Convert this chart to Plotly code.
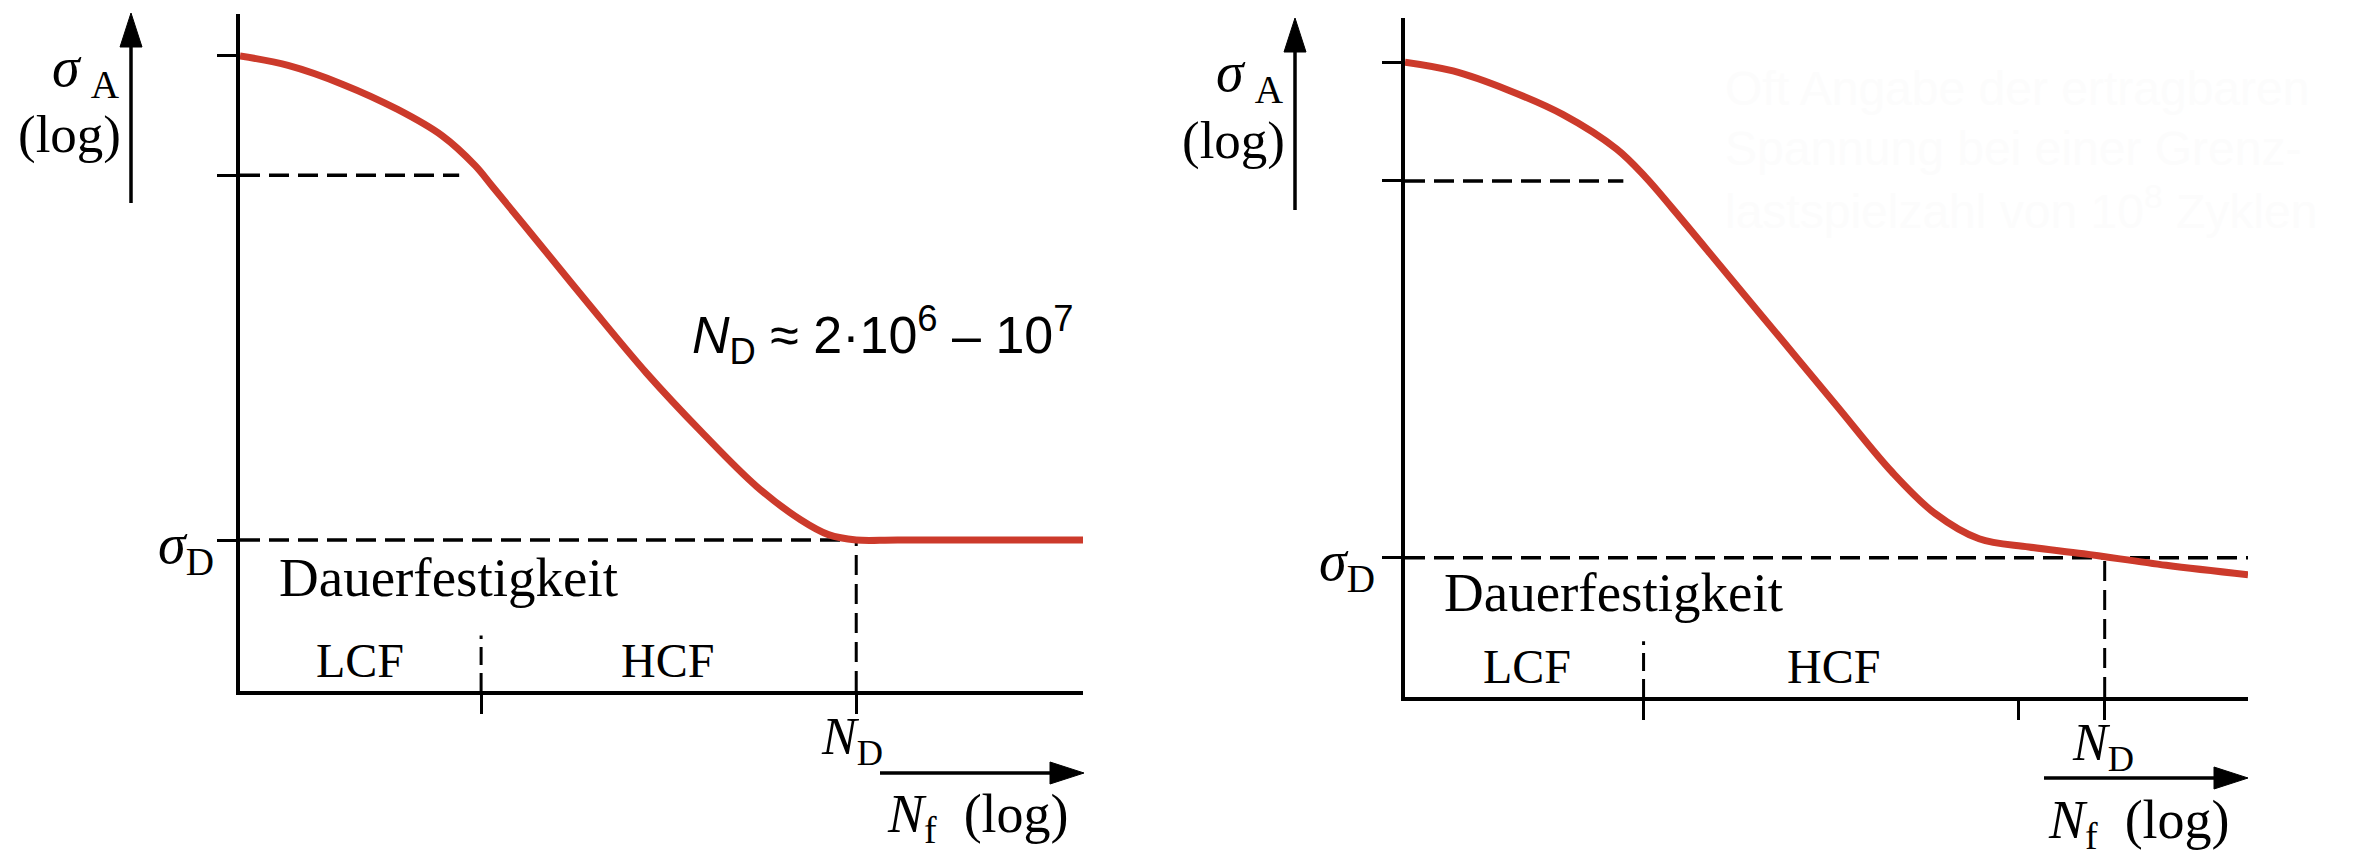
import plotly.graph_objects as go

# ---------------- data (schematic S-N curves, log units) ----------------
# left panel: curve with fatigue limit (horizontal after N_D)
left_logN = [0, 0.57, 1.22, 1.87, 2.40, 2.79, 2.99, 3.51, 4.16, 4.82, 5.48, 6.13, 6.65, 6.98, 7.31, 7.8, 10]
left_logS = [9.38, 9.24, 8.96, 8.59, 8.20, 7.76, 7.46, 6.67, 5.68, 4.70, 3.82, 3.02, 2.53, 2.31, 2.23, 2.23, 2.23]
left_levels = {"sigma_top": 9.38, "sigma_lcf": 7.62, "sigma_D": 2.23}
left_marks = {"N_lcf_end": 2.60, "N_LCF_HCF": 2.86, "N_D": 7.31}

# right panel: curve without true fatigue limit (keeps falling)
right_logN = [0, 0.57, 1.22, 1.87, 2.51, 2.85, 3.17, 3.82, 4.47, 5.12, 5.78, 6.29, 6.81, 7.40, 8.05, 9.03, 10]
right_logS = [9.35, 9.22, 8.94, 8.58, 8.07, 7.66, 7.20, 6.23, 5.26, 4.29, 3.31, 2.70, 2.33, 2.21, 2.11, 1.94, 1.80]
right_levels = {"sigma_top": 9.35, "sigma_lcf": 7.60, "sigma_D": 2.05}
right_marks = {"N_lcf_end": 2.59, "N_LCF_HCF": 2.83, "N_knee": 7.28, "N_D": 8.30}

sep_height = 0.82  # height of LCF/HCF separator line (axis units)

# ---------------- styling ----------------
OFF = 8                       # page body margin of the html page
OFFX = 5
W, H = 2372 - OFF, 854 - OFF
RED = "#cc3a2b"
SERIF = "Liberation Serif"
SANS = "Liberation Sans"
DASH = "20px,9px"


def fx(px):
    return (px - OFFX) / W


def fy(py):
    return 1 - (py - OFF) / H


fig = go.Figure()


def add_panel(xa, ya, logN, logS, lv, mk, full_sigma_line):
    # dashed guide lines
    fig.add_trace(go.Scatter(x=[0, mk["N_lcf_end"]], y=[lv["sigma_lcf"], lv["sigma_lcf"]],
                             mode="lines", line=dict(color="black", width=3.5, dash=DASH),
                             xaxis=xa, yaxis=ya, hoverinfo="skip", showlegend=False))
    fig.add_trace(go.Scatter(x=[0, 10 if full_sigma_line else mk["N_D"]], y=[lv["sigma_D"], lv["sigma_D"]],
                             mode="lines", line=dict(color="black", width=3.5, dash=DASH),
                             xaxis=xa, yaxis=ya, hoverinfo="skip", showlegend=False))
    fig.add_trace(go.Scatter(x=[mk["N_D"], mk["N_D"]], y=[0, lv["sigma_D"]],
                             mode="lines", line=dict(color="black", width=3, dash=DASH),
                             xaxis=xa, yaxis=ya, hoverinfo="skip", showlegend=False))
    fig.add_trace(go.Scatter(x=[mk["N_LCF_HCF"], mk["N_LCF_HCF"]], y=[0, sep_height],
                             mode="lines", line=dict(color="black", width=3, dash="18px,8px"),
                             xaxis=xa, yaxis=ya, hoverinfo="skip", showlegend=False))
    # S-N curve
    fig.add_trace(go.Scatter(x=logN, y=logS, mode="lines",
                             line=dict(color=RED, width=7, shape="spline", smoothing=1),
                             xaxis=xa, yaxis=ya, hoverinfo="skip", showlegend=False))


add_panel("x", "y", left_logN, left_logS, left_levels, left_marks, False)
add_panel("x2", "y2", right_logN, right_logS, right_levels, right_marks, True)

axis_common = dict(showgrid=False, zeroline=False, showline=True, linecolor="black",
                   linewidth=3.5, ticks="outside", ticklen=19, tickwidth=3,
                   tickcolor="black", showticklabels=False, range=[0, 10], fixedrange=True)

fig.update_layout(
    width=W, height=H, paper_bgcolor="white", plot_bgcolor="white",
    margin=dict(l=0, r=0, t=0, b=0), showlegend=False,
    xaxis=dict(domain=[fx(237), fx(1080)], anchor="y",
               tickvals=[left_marks["N_LCF_HCF"], left_marks["N_D"]], **axis_common),
    yaxis=dict(domain=[fy(691), fy(14)], anchor="x",
               tickvals=list(left_levels.values()), **axis_common),
    xaxis2=dict(domain=[fx(1402), fx(2245)], anchor="y2",
                tickvals=[right_marks["N_LCF_HCF"], right_marks["N_knee"], right_marks["N_D"]], **axis_common),
    yaxis2=dict(domain=[fy(697), fy(18)], anchor="x2",
                tickvals=list(right_levels.values()), **axis_common),
)

shapes = []


def arrow_up(x, y_bottom, y_tip, head_len=34, head_w=22):
    shapes.append(dict(type="line", xref="paper", yref="paper",
                       x0=fx(x), x1=fx(x), y0=fy(y_bottom), y1=fy(y_tip + head_len - 2),
                       line=dict(color="black", width=3.5)))
    path = "M {} {} L {} {} L {} {} Z".format(fx(x), fy(y_tip), fx(x - head_w / 2), fy(y_tip + head_len),
                                             fx(x + head_w / 2), fy(y_tip + head_len))
    shapes.append(dict(type="path", xref="paper", yref="paper", path=path,
                       fillcolor="black", line=dict(color="black", width=1)))


def arrow_right(y, x_start, x_tip, head_len=34, head_w=22):
    shapes.append(dict(type="line", xref="paper", yref="paper",
                       x0=fx(x_start), x1=fx(x_tip - head_len + 2), y0=fy(y), y1=fy(y),
                       line=dict(color="black", width=3.5)))
    path = "M {} {} L {} {} L {} {} Z".format(fx(x_tip), fy(y), fx(x_tip - head_len), fy(y - head_w / 2),
                                             fx(x_tip - head_len), fy(y + head_w / 2))
    shapes.append(dict(type="path", xref="paper", yref="paper", path=path,
                       fillcolor="black", line=dict(color="black", width=1)))


arrow_up(128, 203, 13)
arrow_right(773, 877, 1081)
arrow_up(1292, 210, 18)
arrow_right(778, 2041, 2245)
fig.update_layout(shapes=shapes)

ann = []


def label(text, x, y, size, font=SERIF, xanchor="center", color="black"):
    ann.append(dict(text=text, x=fx(x), y=fy(y), xref="paper", yref="paper",
                    xanchor=xanchor, yanchor="middle", showarrow=False,
                    font=dict(family=font, size=size, color=color)))


for dx, dyy in [(0, 0), (1164, 5)]:
    label("<i>σ</i>\u2009<sub>A</sub>", 119 + dx, 71 + dyy, 56, xanchor="right")
    label("(log)", 120 + dx, 135 + dyy, 53, xanchor="right")

label("<i>σ</i><sub>D</sub>", 213, 548, 56, xanchor="right")
label("<i>σ</i><sub>D</sub>", 1374, 565, 56, xanchor="right")

label("Dauerfestigkeit", 274, 577, 55, xanchor="left")
label("Dauerfestigkeit", 1439, 592, 55, xanchor="left")

label("LCF", 357, 660, 48)
label("HCF", 664, 660, 48)
label("LCF", 1524, 666, 48)
label("HCF", 1830, 666, 48)

label("<i>N</i><sub>D</sub>", 849, 740, 52)
label("<i>N</i><sub>D</sub>", 2100, 746, 52)
label("<i>N</i><sub>f</sub>  (log)", 975, 817, 54)
label("<i>N</i><sub>f</sub>  (log)", 2136, 823, 54)

label("<i>N</i><sub>D</sub> ≈ 2·10<sup>6</sup> – 10<sup>7</sup>", 880, 335, 52, font=SANS)

faint = "#fcfcfc"
label("Oft Angabe der ertragbaren", 1720, 89, 48, font=SANS, xanchor="left", color=faint)
label("Spannung bei einer Grenz-", 1720, 148, 48, font=SANS, xanchor="left", color=faint)
label("lastspielzahl von 10<sup>8</sup> Zyklen", 1720, 208, 48, font=SANS, xanchor="left", color=faint)

fig.update_layout(annotations=ann)

fig.write_html("out.html")
